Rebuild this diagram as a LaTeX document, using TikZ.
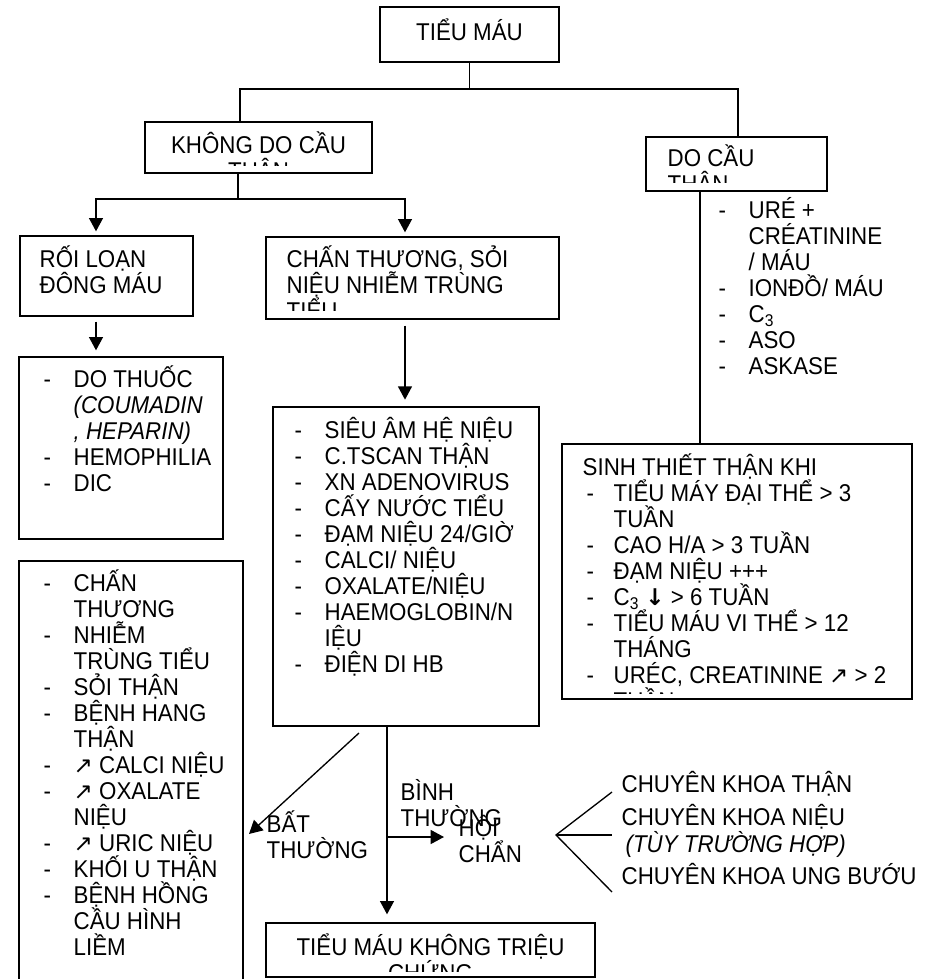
\documentclass[tikz,border=0pt]{standalone}
\usepackage{fontspec}
\setmainfont{Liberation Sans}[FakeStretch=0.92]
\newfontfamily\symfont{DejaVu Sans}[Scale=0.95]
\usetikzlibrary{arrows.meta,fit}

\newcommand{\itm}[1][22.5pt]{\makebox[#1][l]{-}}
\newcommand{\ind}[1][22.5pt]{\hspace*{#1}}
\newcommand{\st}{\rule{0pt}{20pt}}

\begin{document}
\begin{tikzpicture}[x=0.75pt,y=0.75pt,yscale=-1,xscale=1,line width=1pt,
    every node/.style={font=\fontsize{18.2pt}{19.5pt}\selectfont},
    box/.style={draw,inner sep=0pt},
    txt/.style={anchor=north west,inner sep=0pt,align=left},
    arr/.style={-{Triangle[width=10.5pt,length=10pt]}}]
    \useasboundingbox (0,0) rectangle (928,979);

    %Shape: Rectangle
    \node[box,fit={(380,7) (559,62)}] (top) {};
    \node[box,fit={(145,122) (372,173)}] (kdc) {};
    \node[box,fit={(646,137) (827,191)}] (dct) {};
    \node[box,fit={(20,236) (193,316)}] (rld) {};
    \node[box,fit={(266,237) (559,319)}] (ctn) {};
    \node[box,fit={(19,357) (223,539)}] (dth) {};
    \node[box,fit={(273,407) (539,726)}] (xn) {};
    \node[box,fit={(562,444) (912,699)}] (stt) {};
    \node[box,fit={(19,561) (243,995)}] (nn) {};
    \node[box,fit={(266,923) (595,977)}] (kt) {};

    % Text Node
    \draw (469.5,40) node (ttm) [anchor=base] {TIỂU MÁU};
    % Text Node
    \begin{scope}
    \clip (kdc.north west) rectangle ([yshift=-6pt]kdc.south east);
    \draw (258.5,126.33) node (tkdc) [anchor=north,inner sep=0pt,align=center] {\st KHÔNG DO CẦU\\THẬN};
    \end{scope}
    % Text Node
    \begin{scope}
    \clip (dct.north west) rectangle ([yshift=-6.75pt]dct.south east);
    \draw (667,139.33) node (tdct) [txt] {\st DO CẦU\\THẬN};
    \end{scope}
    % Text Node
    \draw (39,240.33) node (trld) [txt] {\st RỐI LOẠN\\ĐÔNG MÁU};
    % Text Node
    \begin{scope}
    \clip (ctn.north west) rectangle ([yshift=-6.75pt]ctn.south east);
    \draw (286,240.33) node (tctn) [txt] {\st CHẤN THƯƠNG, SỎI\\NIỆU NHIỄM TRÙNG\\TIỂU};
    \end{scope}
    % Text Node
    \draw (43,360.33) node (tdth) [txt] {\st\itm DO THUỐC\\\ind\textit{(COUMADIN}\\\ind\textit{, HEPARIN)}\\\itm HEMOPHILIA\\\itm DIC};
    % Text Node
    \draw (294,411.33) node (txn) [txt] {\st\itm SIÊU ÂM HỆ NIỆU\\\itm C.TSCAN THẬN\\\itm XN ADENOVIRUS\\\itm CẤY NƯỚC TIỂU\\\itm ĐẠM NIỆU 24/GIỜ\\\itm CALCI/ NIỆU\\\itm OXALATE/NIỆU\\\itm HAEMOGLOBIN/N\\\ind IỆU\\\itm ĐIỆN DI HB};
    % Text Node
    \draw (718,191.33) node (tdt) [txt] {\st\itm URÉ +\\\ind CRÉATININE\\\ind / MÁU\\\itm IONĐỒ/ MÁU\\\itm C\textsubscript{3}\\\itm ASO\\\itm ASKASE};
    % Text Node
    \begin{scope}
    \clip (stt.north west) rectangle ([yshift=-4.5pt]stt.south east);
    \draw (582,448.33) node (tstt) [txt] {\st SINH THIẾT THẬN KHI\\\hspace*{3pt}\itm[20.25pt]TIỂU MÁY ĐẠI THỂ > 3\\\ind[23.25pt]TUẦN\\\hspace*{3pt}\itm[20.25pt]CAO H/A > 3 TUẦN\\\hspace*{3pt}\itm[20.25pt]ĐẠM NIỆU +++\\\hspace*{3pt}\itm[20.25pt]C\textsubscript{3} {\symfont\bfseries ↓} > 6 TUẦN\\\hspace*{3pt}\itm[20.25pt]TIỂU MÁU VI THỂ > 12\\\ind[23.25pt]THÁNG\\\hspace*{3pt}\itm[20.25pt]URÉC, CREATININE {\symfont ↗} > 2\\\ind[23.25pt]TUẦN};
    \end{scope}
    % Text Node
    \draw (43,564.33) node (tnn) [txt] {\st\itm CHẤN\\\ind THƯƠNG\\\itm NHIỄM\\\ind TRÙNG TIỂU\\\itm SỎI THẬN\\\itm BỆNH HANG\\\ind THẬN\\\itm{\symfont ↗} CALCI NIỆU\\\itm{\symfont ↗} OXALATE\\\ind NIỆU\\\itm{\symfont ↗} URIC NIỆU\\\itm KHỐI U THẬN\\\itm BỆNH HỒNG\\\ind CẦU HÌNH\\\ind LIỀM};
    % Text Node
    \begin{scope}
    \clip (kt.north west) rectangle ([yshift=-4.5pt]kt.south east);
    \draw (430.5,928.33) node (tkt) [anchor=north,inner sep=0pt,align=center] {\st TIỂU MÁU KHÔNG TRIỆU\\CHỨNG};
    \end{scope}
    % Text Node
    \draw (266,805.33) node (bt) [txt] {\st BẤT\\THƯỜNG};
    % Text Node
    \draw (400,773.33) node (bth) [txt] {\st BÌNH\\THƯỜNG};
    % Text Node
    \draw (458,809.33) node (hc) [txt] {\st HỘI\\CHẨN};
    % Text Node
    \draw (621,792) node (ckt) [anchor=base west,inner sep=0pt] {CHUYÊN KHOA THẬN};
    \draw (621,825) node (ckn) [anchor=base west,inner sep=0pt] {CHUYÊN KHOA NIỆU};
    \draw (625,852) node (tth) [anchor=base west,inner sep=0pt] {\textit{(TÙY TRƯỜNG HỢP)}};
    \draw (621,884) node (cku) [anchor=base west,inner sep=0pt] {CHUYÊN KHOA UNG BƯỚU};

    %Straight Lines
    \coordinate (jt) at (469.5,89);
    \coordinate (jl) at (240,89);
    \coordinate (jr) at (738,89);
    \draw (top.south) -- (jt);
    \draw (jl |- kdc.north) -- (jl) -- (jr) -- (jr |- dct.north);
    %Straight Lines
    \coordinate (jk) at (238,199);
    \coordinate (jka) at (96,199);
    \coordinate (jkb) at (405,199);
    \draw (kdc.south -| jk) -- (jk);
    \draw[arr,shorten >=3pt] (jk) -- (jka) -- (jka |- rld.north);
    \draw[arr,shorten >=3pt] (jk) -- (jkb) -- (jkb |- ctn.north);
    \draw[arr,shorten <=3.75pt,shorten >=4.5pt] (rld.south -| jka) -- (dth.north -| jka);
    \draw[arr,shorten <=4.5pt,shorten >=5pt] (ctn.south -| jkb) -- (xn.north -| jkb);
    %Straight Lines
    \coordinate (jd) at (700,300);
    \draw (dct.south -| jd) -- (stt.north -| jd);
    %Straight Lines
    \coordinate (jb) at (387,837);
    \coordinate (hx) at (444,837);
    \draw[arr,shorten >=6pt] (xn.south -| jb) -- (kt.north -| jb);
    \draw[arr] (jb) -- (hx);
    \coordinate (d1) at (359,733);
    \coordinate (d2) at (249,834);
    \draw[arr] (d1) -- (d2);
    %Straight Lines
    \coordinate (fk) at (556,835);
    \coordinate (f1) at (612,792);
    \coordinate (f2) at (612,835);
    \coordinate (f3) at (612,892);
    \draw (f1) -- (fk) -- (f3);
    \draw (fk) -- (f2);

\end{tikzpicture}
\end{document}
